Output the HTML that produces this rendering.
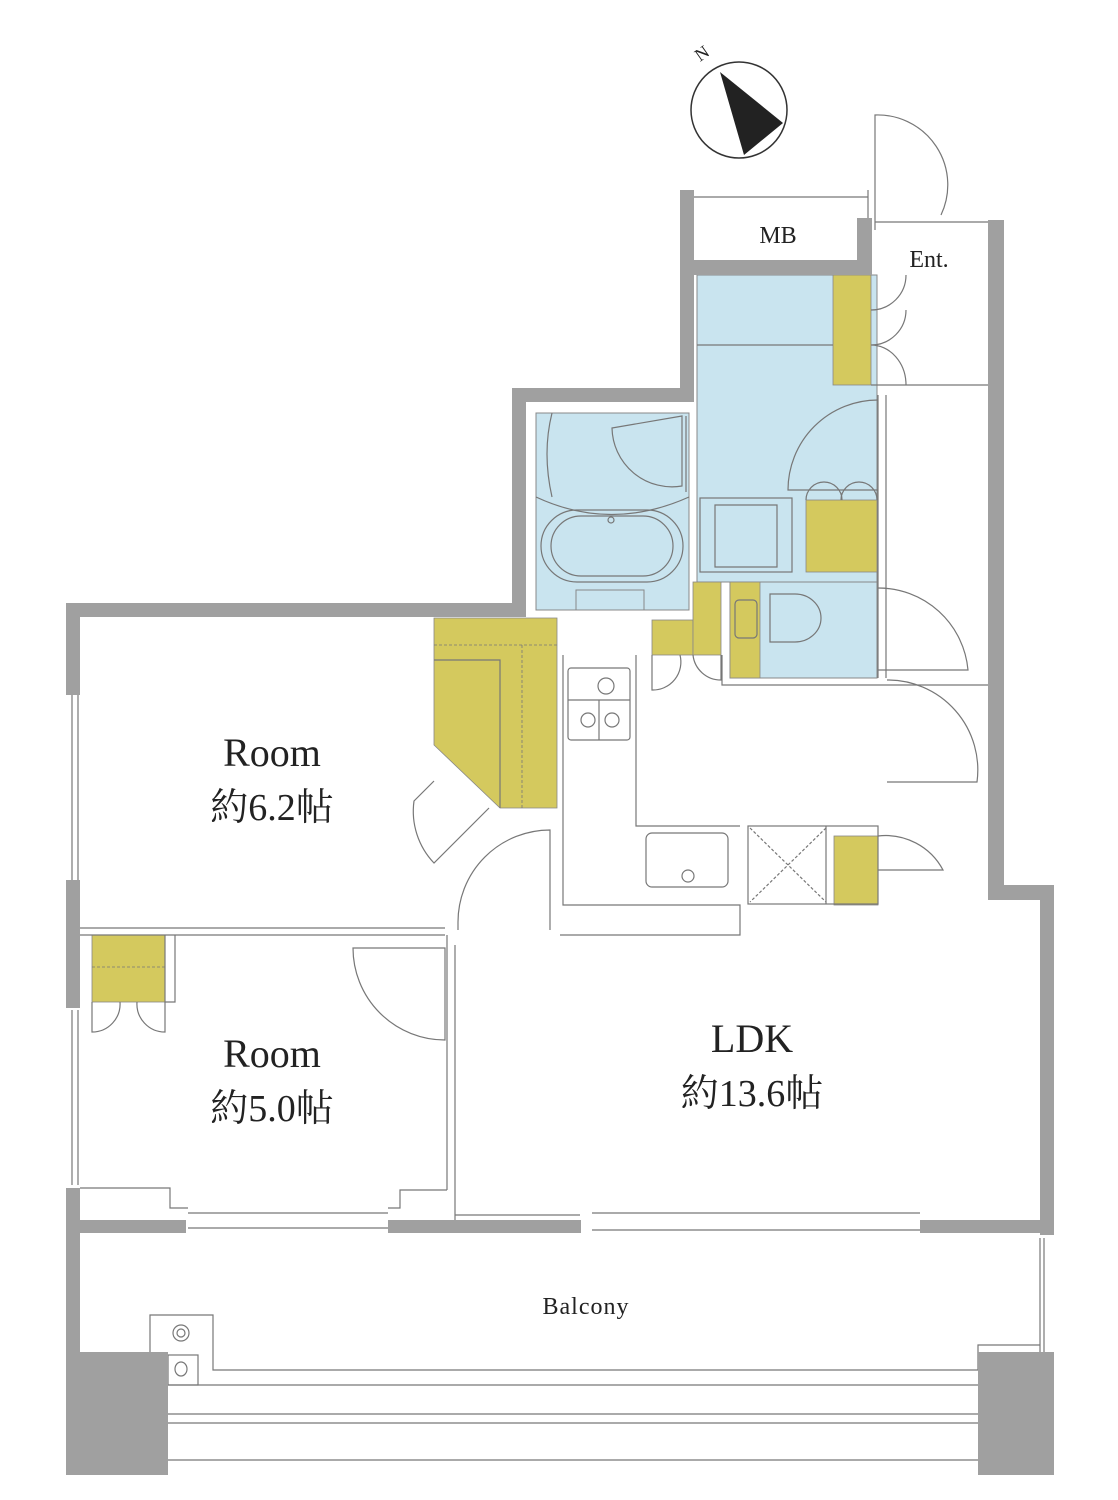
<!DOCTYPE html>
<html><head><meta charset="utf-8"><style>
html,body{margin:0;padding:0;background:#fff;}
svg{display:block}
text{font-family:"Liberation Serif","Noto Serif CJK SC",serif;fill:#222}
</style></head><body>
<svg width="1118" height="1500" viewBox="0 0 1118 1500" xmlns="http://www.w3.org/2000/svg">
<!-- blue areas -->
<g fill="#c9e4ef" stroke="#888" stroke-width="1">
<rect x="697" y="275" width="180" height="307"/>
<rect x="536" y="413" width="153" height="197"/>
<rect x="576" y="590" width="68" height="20"/>
<rect x="730" y="582" width="147" height="96"/>
</g>
<!-- olive areas -->
<g fill="#d4c95e" stroke="#888" stroke-width="0.8">
<rect x="833" y="275" width="38" height="110"/>
<rect x="806" y="500" width="71" height="72"/>
<polygon points="434,618 557,618 557,808 500,808 434,745"/>
<rect x="652" y="620" width="41" height="35"/>
<rect x="693" y="582" width="28" height="73"/>
<rect x="730" y="582" width="30" height="96"/>
<rect x="834" y="836" width="44" height="69"/>
<rect x="92" y="935" width="73" height="67"/>
</g>
<g stroke="#777" stroke-width="0.8" stroke-dasharray="3,2" fill="none">
<line x1="434" y1="645" x2="557" y2="645"/><line x1="522" y1="645" x2="522" y2="808"/>
<line x1="92" y1="967" x2="165" y2="967"/>
</g>
<!-- thin lines / fixtures -->
<g fill="none" stroke="#777" stroke-width="1.2">
<polyline points="434,660 500,660 500,808"/>
<line x1="697" y1="345" x2="833" y2="345"/>
<rect x="700" y="498" width="92" height="74"/>
<path d="M715 505 h62 v62 h-62z"/>
<rect x="541" y="510" width="142" height="72" rx="36"/>
<rect x="551" y="516" width="122" height="60" rx="30"/>
<circle cx="611" cy="520" r="3"/>
<path d="M536 497 q75 35 153 0"/>
<path d="M552 413 q-10 40 0 84"/>
<rect x="568" y="668" width="62" height="72" rx="3"/>
<line x1="568" y1="700" x2="630" y2="700"/><line x1="599" y1="700" x2="599" y2="740"/>
<circle cx="606" cy="686" r="8"/><circle cx="588" cy="720" r="7"/><circle cx="612" cy="720" r="7"/>
<polyline points="563,655 563,905 740,905 740,935 560,935"/>
<polyline points="636,655 636,826 740,826"/>
<rect x="646" y="833" width="82" height="54" rx="6"/>
<circle cx="688" cy="876" r="6"/>
<rect x="748" y="826" width="130" height="78"/>
<line x1="750" y1="828" x2="826" y2="902" stroke-dasharray="3,2"/>
<line x1="826" y1="828" x2="750" y2="902" stroke-dasharray="3,2"/>
<line x1="826" y1="826" x2="826" y2="904"/>
<path d="M878 836 a65 65 0 0 1 65 34 h-65"/>
<path d="M770 594 h25 a26 24 0 0 1 0 48 h-25z"/>
<rect x="735" y="600" width="22" height="38" rx="4"/>
<line x1="80" y1="935" x2="445" y2="935"/>
<line x1="80" y1="928" x2="445" y2="928"/>
<polyline points="165,935 165,1002 175,1002 175,935"/>
<line x1="447" y1="935" x2="447" y2="1190"/>
<line x1="455" y1="945" x2="455" y2="1220"/>
<polyline points="80,1188 170,1188 170,1208 188,1208"/>
<polyline points="388,1208 400,1208 400,1190 447,1190"/>
<polyline points="455,1215 580,1215"/>
<path d="M353 948 a92 92 0 0 0 92 92 v-92z"/>
<path d="M458 930 v-8 a92 92 0 0 1 92 -92 v100"/>
<path d="M489 808 l-55 55 a75 75 0 0 1 -20 -62 l20 -20"/>
<path d="M92 1002 v30 a28 28 0 0 0 28 -30 M165 1002 v30 a28 28 0 0 1 -28 -30"/>
<path d="M652 655 v35 a28 28 0 0 0 28 -35 M721 655 v25 a28 28 0 0 1 -28 -25"/>
<path d="M878 400 a90 90 0 0 0 -90 90 h90"/>
<path d="M806 500 a18 18 0 0 1 36 0 M877 500 a18 18 0 0 0 -36 0"/>
<path d="M878 588 a90 90 0 0 1 90 82 h-90"/>
<path d="M887 680 a90 90 0 0 1 90 102 h-90"/>
<path d="M871 310 a35 35 0 0 0 35 -35 M871 345 a35 35 0 0 0 35 -35 M871 345 a35 40 0 0 1 35 40"/>
<line x1="871" y1="385" x2="988" y2="385"/>
<line x1="878" y1="395" x2="878" y2="678"/>
<line x1="886" y1="395" x2="886" y2="678"/>
<polyline points="722,655 722,685 880,685"/>
<line x1="880" y1="685" x2="988" y2="685"/>
<path d="M875 230 v-115 a70 70 0 0 1 66 100"/>
<line x1="694" y1="197" x2="868" y2="197"/>
<line x1="868" y1="190" x2="868" y2="222"/>
<line x1="875" y1="222" x2="988" y2="222"/>
<path d="M612 428 l70 -12 v70 a60 60 0 0 1 -70 -58z"/>
<line x1="686" y1="416" x2="686" y2="492"/>
<!-- windows left -->
<line x1="72" y1="695" x2="72" y2="880"/><line x1="78" y1="695" x2="78" y2="880"/>
<line x1="72" y1="1010" x2="72" y2="1185"/><line x1="78" y1="1010" x2="78" y2="1185"/>
<!-- windows bottom -->
<line x1="188" y1="1213" x2="388" y2="1213"/><line x1="188" y1="1228" x2="388" y2="1228"/>
<line x1="592" y1="1213" x2="920" y2="1213"/><line x1="592" y1="1230" x2="920" y2="1230"/>
<line x1="1040" y1="1238" x2="1040" y2="1352"/><line x1="1044" y1="1238" x2="1044" y2="1352"/>
<!-- balcony -->
<polyline points="150,1352 150,1315 213,1315 213,1370 978,1370 978,1345 1040,1345"/>
<rect x="168" y="1355" width="30" height="30"/>
<circle cx="181" cy="1333" r="8"/><circle cx="181" cy="1333" r="4"/>
<ellipse cx="181" cy="1369" rx="6" ry="7"/>
<line x1="168" y1="1385" x2="978" y2="1385"/>
<line x1="168" y1="1414" x2="978" y2="1414"/>
<line x1="168" y1="1423" x2="978" y2="1423"/>
<line x1="168" y1="1460" x2="978" y2="1460"/>
</g>
<!-- walls -->
<g fill="#a0a0a0">
<rect x="66" y="603" width="460" height="14"/>
<rect x="66" y="603" width="14" height="92"/>
<rect x="66" y="880" width="14" height="128"/>
<rect x="66" y="1188" width="14" height="164"/>
<rect x="66" y="1220" width="120" height="13"/>
<rect x="388" y="1220" width="193" height="13"/>
<rect x="920" y="1220" width="134" height="13"/>
<rect x="512" y="388" width="14" height="229"/>
<rect x="512" y="388" width="182" height="14"/>
<rect x="680" y="190" width="14" height="212"/>
<rect x="680" y="260" width="192" height="15"/>
<rect x="857" y="218" width="15" height="57"/>
<rect x="988" y="220" width="16" height="680"/>
<rect x="988" y="885" width="66" height="15"/>
<rect x="1040" y="885" width="14" height="350"/>
<rect x="66" y="1352" width="102" height="123"/>
<rect x="978" y="1352" width="76" height="123"/>
</g>
<!-- compass -->
<circle cx="739" cy="110" r="48" fill="none" stroke="#333" stroke-width="1.5"/>
<polygon points="720,72 783,123 744,155" fill="#222"/>
<text x="700" y="62" font-size="18" transform="rotate(-35 700 62)">N</text>
<!-- labels -->
<text x="778" y="243" font-size="24" text-anchor="middle">MB</text>
<text x="929" y="267" font-size="24" text-anchor="middle">Ent.</text>
<text x="272" y="766" font-size="40" text-anchor="middle">Room</text>
<text x="272" y="820" font-size="38" text-anchor="middle">約6.2帖</text>
<text x="272" y="1067" font-size="40" text-anchor="middle">Room</text>
<text x="272" y="1121" font-size="38" text-anchor="middle">約5.0帖</text>
<text x="752" y="1052" font-size="40" text-anchor="middle">LDK</text>
<text x="752" y="1106" font-size="38" text-anchor="middle">約13.6帖</text>
<text x="586" y="1314" font-size="24" text-anchor="middle" letter-spacing="1">Balcony</text>
</svg>
</body></html>
